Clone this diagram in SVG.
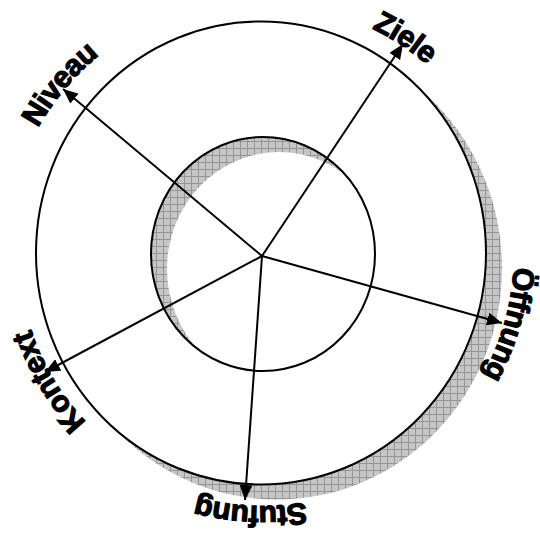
<svg xmlns="http://www.w3.org/2000/svg" xmlns:xlink="http://www.w3.org/1999/xlink" width="540" height="541" viewBox="0 0 540 541">
<style>
.lbl{font-family:"Liberation Sans",Arial,sans-serif;font-weight:bold;font-size:30px;fill:#000;stroke:#000;stroke-width:1.2;letter-spacing:-0.5px;text-anchor:middle}
.ring{fill:#fff;fill-rule:evenodd;stroke:#000;stroke-width:2}
.arr{stroke:#000;stroke-width:2;fill:none;marker-end:url(#ah)}
</style>
<defs>
<pattern id="grid" width="7" height="7" patternUnits="userSpaceOnUse">
<rect width="7" height="7" fill="#c6c6c6"/>
<path d="M0,0.5H7M0.5,0V7" stroke="#959595" stroke-width="1"/>
</pattern>
<marker id="ah" markerUnits="userSpaceOnUse" markerWidth="17" markerHeight="14" refX="15" refY="6.5" orient="auto">
<path d="M0,0 L15,6.5 L0,13 z" fill="#000"/>
</marker>
<path id="p251" d="M11,254 A251,251 0 1 1 513,254 A251,251 0 1 1 11,254"/>
<path id="p257" d="M5,254 A257,257 0 1 1 519,254 A257,257 0 1 1 5,254"/>
<path id="p252" d="M10,254 A252,252 0 1 1 514,254 A252,252 0 1 1 10,254"/>
<path id="p243" d="M19,254 A243,243 0 1 1 505,254 A243,243 0 1 1 19,254"/>
</defs>
<g id="shadow">
<path transform="translate(16,15)" fill="url(#grid)" fill-rule="evenodd" d="M36,253 A225,231.5 0 1 1 486,253 A225,231.5 0 1 1 36,253 Z M151,254 A112,117 0 1 0 375,254 A112,117 0 1 0 151,254 Z"/>
</g>
<g id="ring">
<path class="ring" d="M36,253 A225,231.5 0 1 1 486,253 A225,231.5 0 1 1 36,253 Z M151,254 A112,117 0 1 0 375,254 A112,117 0 1 0 151,254 Z"/>
</g>
<g id="connectors">
<line class="arr" x1="262" y1="256" x2="403" y2="44"/>
<line class="arr" x1="262" y1="256" x2="63" y2="89"/>
<line class="arr" x1="262" y1="256" x2="502" y2="323"/>
<line class="arr" x1="262" y1="256" x2="45" y2="372"/>
<line class="arr" x1="262" y1="256" x2="245" y2="500"/>
</g>
<g id="ziele"><text class="lbl"><textPath xlink:href="#p251" href="#p251" startOffset="34.3%">Ziele</textPath></text></g>
<g id="niveau"><text class="lbl"><textPath xlink:href="#p257" href="#p257" startOffset="11.1%">Niveau</textPath></text></g>
<g id="oeffnung"><text class="lbl"><textPath xlink:href="#p252" href="#p252" startOffset="54.4%">Öffnung</textPath></text></g>
<g id="kontext"><text class="lbl"><textPath xlink:href="#p243" href="#p243" startOffset="91.4%">Kontext</textPath></text></g>
<g id="stufung"><text class="lbl"><textPath xlink:href="#p252" href="#p252" startOffset="75.7%">Stufung</textPath></text></g>
</svg>
